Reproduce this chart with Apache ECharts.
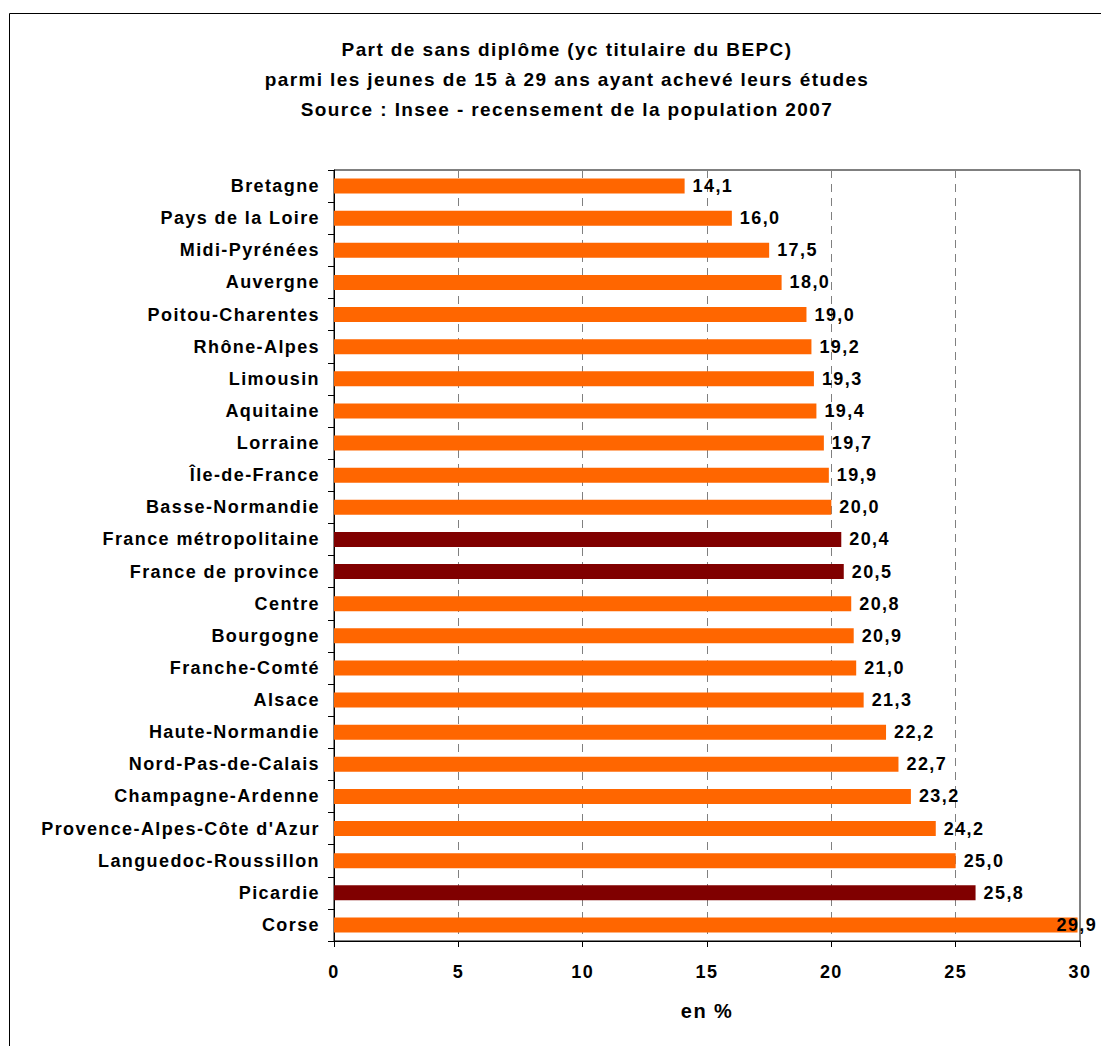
<!DOCTYPE html>
<html><head><meta charset="utf-8">
<script src="https://cdn.jsdelivr.net/npm/echarts@6/dist/echarts.min.js"></script>
<style>html,body{margin:0;padding:0;background:#fff}#c{width:1101px;height:1046px;letter-spacing:1.4px}</style>
</head><body><div id="c"></div>
<script>
const categories = ["Bretagne","Pays de la Loire","Midi-Pyrénées","Auvergne","Poitou-Charentes","Rhône-Alpes","Limousin","Aquitaine","Lorraine","Île-de-France","Basse-Normandie","France métropolitaine","France de province","Centre","Bourgogne","Franche-Comté","Alsace","Haute-Normandie","Nord-Pas-de-Calais","Champagne-Ardenne","Provence-Alpes-Côte d'Azur","Languedoc-Roussillon","Picardie","Corse"];
const values = [14.1,16.0,17.5,18.0,19.0,19.2,19.3,19.4,19.7,19.9,20.0,20.4,20.5,20.8,20.9,21.0,21.3,22.2,22.7,23.2,24.2,25.0,25.8,29.9];
const highlighted = ["France métropolitaine","France de province","Picardie"];
const xTicks = [0,5,10,15,20,25,30];

const FONT = '"Liberation Sans", Arial, sans-serif';
const chart = echarts.init(document.getElementById('c'), null, {renderer:'svg'});
chart.setOption({
  animation:false,
  backgroundColor:'#fff',
  title:{
    text:'Part de sans diplôme (yc titulaire du BEPC)\nparmi les jeunes de 15 à 29 ans ayant achevé leurs études\nSource : Insee - recensement de la population 2007',
    left:562, top:29, textAlign:'center',
    textStyle:{fontFamily:FONT,fontSize:19,fontWeight:'bold',color:'#000',lineHeight:30}
  },
  graphic:[{type:'rect',shape:{x:9.5,y:13.5,width:1200,height:1200},style:{fill:'none',stroke:'#000',lineWidth:1},silent:true}],
  grid:{left:334,top:170,right:21,bottom:105,show:true,borderColor:'#000',borderWidth:1},
  xAxis:{
    type:'value',min:0,max:30,interval:5,
    name:'en %',nameLocation:'middle',nameGap:60,
    nameTextStyle:{fontFamily:FONT,fontSize:20,fontWeight:'bold',color:'#000'},
    axisLine:{show:true,lineStyle:{color:'#000',width:1}},
    axisTick:{show:true,length:6,lineStyle:{color:'#000'}},
    axisLabel:{fontFamily:FONT,fontSize:18,fontWeight:'bold',color:'#000',margin:22,
      formatter:v=>xTicks.includes(v)?String(v):''},
    splitLine:{show:true,lineStyle:{color:'#808080',type:[8,6],width:1}}
  },
  yAxis:{
    type:'category',data:categories,inverse:true,
    axisLine:{show:true,lineStyle:{color:'#000'}},
    axisTick:{show:true,length:6,lineStyle:{color:'#000'}},
    axisLabel:{fontFamily:FONT,fontSize:18,fontWeight:'bold',color:'#000',margin:14},
    splitLine:{show:false}
  },
  series:[{
    type:'bar',barWidth:15,
    data:values.map((v,i)=>{
      const d={value:v,itemStyle:{color:highlighted.includes(categories[i])?'#800000':'#FF6600'}};
      if(v===Math.max(...values)) d.label={distance:-21};
      return d;
    }),
    label:{show:true,position:'right',distance:8,fontFamily:FONT,fontSize:18,fontWeight:'bold',color:'#000',
      formatter:p=>p.value.toFixed(1).replace('.',',')}
  }]
});
</script></body></html>
